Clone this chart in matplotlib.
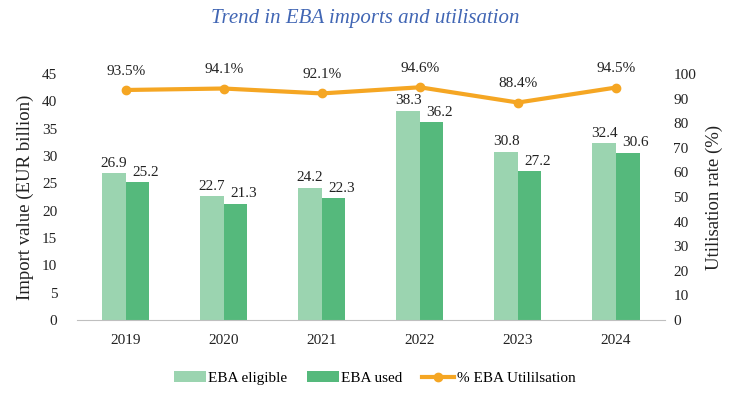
import numpy as np
import matplotlib.pyplot as plt

plt.rcParams['font.family'] = ['Liberation Serif', 'DejaVu Serif']

years = ['2019', '2020', '2021', '2022', '2023', '2024']
eligible = [26.9, 22.7, 24.2, 38.3, 30.8, 32.4]
used = [25.2, 21.3, 22.3, 36.2, 27.2, 30.6]
util = [93.5, 94.1, 92.1, 94.6, 88.4, 94.5]

c_light = '#9bd4b0'
c_dark = '#55b97c'
c_line = '#f5a623'

fig = plt.figure(figsize=(7.3, 4.0), dpi=100)
ax = fig.add_axes([0.105, 0.2, 0.806, 0.615])
ax2 = ax.twinx()

x = np.arange(len(years))
w = 0.24
b1 = ax.bar(x - w / 2, eligible, w, color=c_light, label='EBA eligible')
b2 = ax.bar(x + w / 2, used, w, color=c_dark, label='EBA used')
for xi, v in zip(x, eligible):
    ax.text(xi - w / 2, v + 0.6, f'{v:.1f}', ha='center', va='bottom', fontsize=11, color='#222222')
for xi, v in zip(x, used):
    ax.text(xi + w / 2 + 0.08, v + 0.6, f'{v:.1f}', ha='center', va='bottom', fontsize=11, color='#222222')

ln, = ax2.plot(x, util, color=c_line, lw=3, marker='o', ms=6, label='% EBA Utililsation')
for xi, v in zip(x, util):
    ax2.text(xi, v + 5.0, f'{v:.1f}%', ha='center', va='bottom', fontsize=11, color='#222222')

ax.set_xlim(-0.5, 5.5)
ax.set_ylim(0, 45)
ax.set_yticks(range(0, 46, 5))
ax2.set_ylim(0, 100)
ax2.set_yticks(range(0, 101, 10))
ax.set_xticks(x)
ax.set_xticklabels(years)

for a in (ax, ax2):
    for s in a.spines.values():
        s.set_visible(False)
    a.tick_params(length=0, labelsize=11, colors='#222222')
ax.spines['bottom'].set_visible(True)
ax.spines['bottom'].set_color('#bfbfbf')
ax.tick_params(axis='x', pad=10)
ax.tick_params(axis='y', pad=14)
ax2.tick_params(axis='y', pad=6)

ax.set_ylabel('Import value (EUR billion)', fontsize=13.5, color='#222222', labelpad=6)
ax2.set_ylabel('Utilisation rate (%)', fontsize=13.5, color='#222222', labelpad=7)

fig.text(0.5, 0.955, 'Trend in EBA imports and utilisation', ha='center', va='center',
         fontsize=15, style='italic', color='#4166b4')

fig.legend(handles=[b1, b2, ln], loc='center', bbox_to_anchor=(0.513, 0.055), ncol=3,
           frameon=False, fontsize=11, handlelength=2.1, columnspacing=1.3, handletextpad=0.15)

fig.savefig('out.png', dpi=100)
